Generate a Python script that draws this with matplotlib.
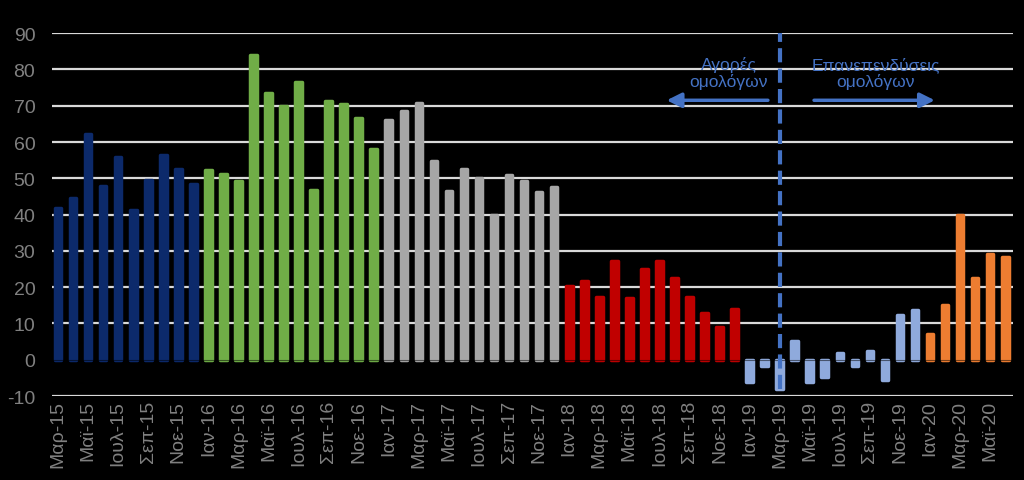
import numpy as np
import matplotlib.pyplot as plt

plt.rcParams['font.family'] = ['Liberation Sans', 'DejaVu Sans']
plt.rcParams['axes.unicode_minus'] = False

months = ['Ιαν', 'Φεβ', 'Μαρ', 'Απρ', 'Μαϊ', 'Ιουν', 'Ιουλ', 'Αυγ', 'Σεπ', 'Οκτ', 'Νοε', 'Δεκ']

# monthly values Mar-15 .. Jun-20
v2015 = [41.8, 44.5, 62.3, 47.9, 55.8, 41.3, 49.4, 56.4, 52.7, 48.4]
v2016 = [52.2, 51.2, 49.3, 84.0, 73.6, 70.0, 76.5, 46.9, 71.3, 70.4, 66.7, 58.1]
v2017 = [66.2, 68.5, 70.8, 54.8, 46.5, 52.5, 50.1, 39.9, 50.8, 49.3, 46.1, 47.5]
v2018 = [20.4, 21.6, 17.4, 27.3, 17.0, 24.9, 27.3, 22.6, 17.4, 12.8, 9.0, 14.1]
v2019 = [-6.1, -1.6, -8.0, 5.2, -6.1, -4.8, 1.9, -1.6, 2.5, -5.7, 12.2, 13.6]
v2020 = [7.1, 15.2, 39.8, 22.6, 29.1, 28.2]

groups = [v2015, v2016, v2017, v2018, v2019, v2020]
colors = ['#0c2a6b', '#70ad47', '#a6a6a6', '#c00000', '#8faadc', '#ed7d31']

labels = []
for y, start, n in [(15, 2, 10), (16, 0, 12), (17, 0, 12), (18, 0, 12), (19, 0, 12), (20, 0, 6)]:
    for m in range(start, start + n):
        labels.append('%s-%d' % (months[m], y))

fig = plt.figure(figsize=(10.24, 4.81), dpi=100, facecolor='black')
ax = fig.add_axes([0.0508, 0.1746, 0.9382, 0.7544], facecolor='black')

yticks = np.arange(-10, 91, 10)
for t in yticks:
    if t != 0:
        ax.axhline(t, color='#d9d9d9', lw=1.6, zorder=1)

pos = 0
for vals, c in zip(groups, colors):
    x = np.arange(pos, pos + len(vals))
    ax.bar(x, vals, width=0.44, color=c, edgecolor=c, linewidth=2.5,
           joinstyle='round', zorder=2)
    pos += len(vals)

ax.axhline(0, color='black', lw=0.8, alpha=0.5, zorder=3)

# separator and annotations
xsep = labels.index('Μαρ-19')
ax.plot([xsep, xsep], [-8, 90], color='#4472c4', lw=3, ls=(0, (3.4, 1.5)), zorder=4)
ax.annotate('', xy=(40.3, 71.5), xytext=(47.4, 71.5),
            arrowprops=dict(arrowstyle='-|>', color='#4472c4', lw=2.5, mutation_scale=22))
ax.annotate('', xy=(58.5, 71.5), xytext=(50.1, 71.5),
            arrowprops=dict(arrowstyle='-|>', color='#4472c4', lw=2.5, mutation_scale=22))
ax.text(44.6, 79.2, 'Αγορές\nομολόγων', color='#4472c4', fontsize=12.5, ha='center',
        va='center', linespacing=1.05, zorder=5)
ax.text(54.4, 79.2, 'Επανεπενδύσεις\nομολόγων', color='#4472c4', fontsize=12.5, ha='center',
        va='center', linespacing=1.05, zorder=5)

ax.set_xlim(-0.4, 63.5)
ax.set_ylim(-10, 90)
ax.set_yticks(yticks)
ax.set_xticks(np.arange(0, len(labels), 2))
ax.set_xticklabels(labels[::2], rotation=90)
ax.tick_params(axis='both', colors='#808080', labelsize=14, length=0)
ax.tick_params(axis='x', pad=3)
ax.tick_params(axis='y', pad=12)
for s in ax.spines.values():
    s.set_visible(False)

fig.savefig('out.png', dpi=100, facecolor='black')
